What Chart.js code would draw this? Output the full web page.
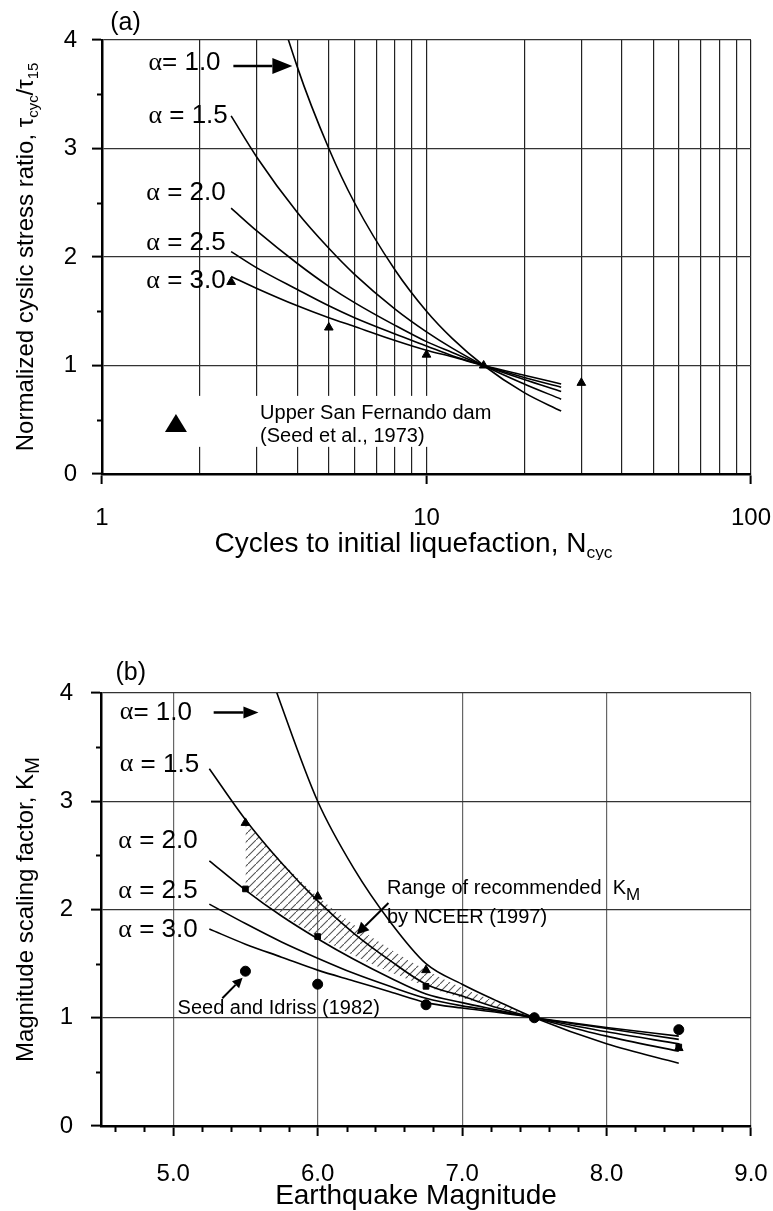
<!DOCTYPE html>
<html>
<head>
<meta charset="utf-8">
<script src="https://cdn.jsdelivr.net/npm/chart.js@4.4.1/dist/chart.umd.min.js"></script>
<style>
  html, body { margin: 0; padding: 0; background: #fff; overflow: hidden; }
  #wrap { position: relative; width: 773px; height: 1211px; }
  .box { position: absolute; left: 0; width: 773px; }
  #boxA { top: 0; height: 560px; }
  #boxB { top: 600px; height: 611px; }
</style>
</head>
<body>
<div id="wrap">
  <div class="box" id="boxA"><canvas id="chartA"></canvas></div>
  <div class="box" id="boxB"><canvas id="chartB"></canvas></div>
</div>
<script>
// ---------- panel (a): cycles to liquefaction vs normalized ratio ----------
const cyclesN = [2.5, 3, 4, 5, 6, 8, 10, 12, 15, 20, 26];
const ratioA10 = [6.00, 5.00, 3.75, 3.00, 2.50, 1.88, 1.50, 1.25, 1.00, 0.75, 0.58];
const ratioA15 = [3.30, 2.92, 2.41, 2.08, 1.84, 1.52, 1.31, 1.16, 1.00, 0.83, 0.69];
const ratioA20 = [2.45, 2.24, 1.94, 1.73, 1.58, 1.37, 1.22, 1.12, 1.00, 0.87, 0.76];
const ratioA25 = [2.05, 1.90, 1.70, 1.55, 1.44, 1.29, 1.18, 1.09, 1.00, 0.89, 0.80];
const ratioA30 = [1.82, 1.71, 1.55, 1.44, 1.36, 1.23, 1.14, 1.08, 1.00, 0.91, 0.83];

// Upper San Fernando dam (Seed et al., 1973)
const sfdN = [2.5, 5, 10, 15, 30];
const sfdRatio = [1.77, 1.35, 1.10, 1.00, 0.84];

const gridN = [1, 2, 3, 4, 5, 6, 7, 8, 9, 10, 20, 30, 40, 50, 60, 70, 80, 90, 100];
const labelN = [1, 10, 100];
const ratioTicks = [0, 1, 2, 3, 4];
const ratioMinor = [0.5, 1.5, 2.5, 3.5];

// ---------- panel (b): magnitude vs scaling factor ----------
const mags = [5.25, 5.5, 5.75, 6.0, 6.25, 6.5, 6.75, 7.0, 7.25, 7.5, 8.0, 8.5];
const kmB10 = [6.00, 4.85, 3.88, 3.00, 2.38, 1.89, 1.50, 1.31, 1.15, 1.00, 0.76, 0.58];
const kmB15 = [3.30, 2.83, 2.43, 2.08, 1.78, 1.53, 1.31, 1.20, 1.09, 1.00, 0.83, 0.69];
const kmB20 = [2.45, 2.18, 1.94, 1.73, 1.54, 1.37, 1.22, 1.14, 1.07, 1.00, 0.87, 0.76];
const kmB25 = [2.05, 1.87, 1.70, 1.55, 1.41, 1.29, 1.18, 1.11, 1.06, 1.00, 0.90, 0.80];
const kmB30 = [1.82, 1.68, 1.56, 1.44, 1.34, 1.24, 1.14, 1.09, 1.05, 1.00, 0.91, 0.83];

const pointMags = [5.5, 6.0, 6.75, 7.5, 8.5];
const nceerUpper = [2.80, 2.12, 1.44, 1.00, 0.72];
const nceerLower = [2.19, 1.75, 1.29, 1.00, 0.73];
const seedIdriss = [1.43, 1.31, 1.12, 1.00, 0.89];

const rangeMags = [5.5, 6.0, 6.75, 7.5];
const rangeUpper = [2.80, 2.12, 1.44, 1.00];
const rangeLower = [2.19, 1.75, 1.29, 1.00];

const magTicks = [5, 6, 7, 8, 9];
const magMinor = [4.6, 4.8, 5.2, 5.4, 5.6, 5.8, 6.2, 6.4, 6.6, 6.8, 7.2, 7.4, 7.6, 7.8, 8.2, 8.4, 8.6, 8.8];
const kmTicks = [0, 1, 2, 3, 4];
const kmMinor = [0.5, 1.5, 2.5, 3.5];

const SANS = "'Liberation Sans', Arial, sans-serif";
const SERIF = "'Liberation Serif', 'Times New Roman', serif";

Chart.defaults.font.family = SANS;
Chart.defaults.color = '#000';
Chart.defaults.animation = false;

function pts(xs, ys) {
    return xs.map((x, i) => ({ x: x, y: ys[i] }));
}

function curve(xs, ys) {
    return {
        data: pts(xs, ys),
        borderColor: '#000',
        borderWidth: 1.6,
        pointRadius: 0,
        fill: false,
        cubicInterpolationMode: 'monotone'
    };
}

function markers(xs, ys, style, r) {
    return {
        data: pts(xs, ys),
        showLine: false,
        pointStyle: style,
        pointRadius: r,
        backgroundColor: '#000',
        borderColor: '#000',
        borderWidth: 1
    };
}

// text with optional subscripts / serif alpha
function drawRich(ctx, parts, x, y, size, align, baseline) {
    ctx.save();
    ctx.textBaseline = baseline || 'middle';
    ctx.textAlign = 'left';
    ctx.fillStyle = '#000';
    const items = parts.map(p => {
        const fs = p.sub ? size * (p.scale || 0.62) : size;
        ctx.font = fs + 'px ' + (p.serif ? SERIF : SANS);
        return { t: p.t, f: ctx.font, w: ctx.measureText(p.t).width, dy: p.sub ? size * (p.drop || 0.22) : 0 };
    });
    const total = items.reduce((s, it) => s + it.w, 0);
    let cx = align === 'center' ? x - total / 2 : (align === 'right' ? x - total : x);
    items.forEach(it => {
        ctx.font = it.f;
        ctx.fillText(it.t, cx, y + it.dy);
        cx += it.w;
    });
    ctx.restore();
}

function arrow(ctx, x1, y1, x2, y2, head, half, lw) {
    const a = Math.atan2(y2 - y1, x2 - x1);
    const bx = x2 - head * Math.cos(a), by = y2 - head * Math.sin(a);
    ctx.save();
    ctx.strokeStyle = '#000';
    ctx.fillStyle = '#000';
    ctx.lineWidth = lw;
    ctx.beginPath();
    ctx.moveTo(x1, y1);
    ctx.lineTo(bx, by);
    ctx.stroke();
    ctx.beginPath();
    ctx.moveTo(x2, y2);
    ctx.lineTo(bx + half * Math.sin(a), by - half * Math.cos(a));
    ctx.lineTo(bx - half * Math.sin(a), by + half * Math.cos(a));
    ctx.closePath();
    ctx.fill();
    ctx.restore();
}

function minorTicks(chart, yMinor, xMinor) {
    const ctx = chart.ctx;
    const { left, bottom } = chart.chartArea;
    const xs = chart.scales.x, ys = chart.scales.y;
    ctx.save();
    ctx.strokeStyle = '#000';
    ctx.lineWidth = 2;
    ctx.beginPath();
    yMinor.forEach(v => {
        const p = Math.round(ys.getPixelForValue(v)) + 0.5;
        ctx.moveTo(left - 5, p);
        ctx.lineTo(left, p);
    });
    (xMinor || []).forEach(v => {
        const p = Math.round(xs.getPixelForValue(v)) + 0.5;
        ctx.moveTo(p, bottom);
        ctx.lineTo(p, bottom + 6);
    });
    ctx.stroke();
    ctx.restore();
}

function alphaLabel(txt) {
    return [{ t: 'α', serif: true }, { t: txt }];
}

// keep label overhang from shrinking the plot area
function fitX(h) {
    return s => { s.height = h; s.paddingLeft = 0; s.paddingRight = 0; };
}

// ---------- chart (a) ----------
const annoA = {
    id: 'annoA',
    beforeDatasetsDraw(chart) {
        // white box behind the legend entry
        const ctx = chart.ctx, xs = chart.scales.x, ys = chart.scales.y;
        const x1 = xs.getPixelForValue(1.87), x2 = xs.getPixelForValue(10.4);
        const y1 = ys.getPixelForValue(0.72), y2 = ys.getPixelForValue(0.25);
        ctx.save();
        ctx.fillStyle = '#fff';
        ctx.fillRect(x1, y1, x2 - x1, y2 - y1);
        ctx.restore();
    },
    afterDraw(chart) {
        const ctx = chart.ctx, xs = chart.scales.x, ys = chart.scales.y;
        const X = v => xs.getPixelForValue(v), Y = v => ys.getPixelForValue(v);
        const ca = chart.chartArea;
        minorTicks(chart, ratioMinor);

        drawRich(ctx, [{ t: '(a)' }], X(1.06), Y(4.16), 25, 'left');
        drawRich(ctx, alphaLabel('= 1.0'), X(1.39), Y(3.79), 26, 'left');
        arrow(ctx, X(2.54), Y(3.76), X(3.86), Y(3.76), 20, 8, 2.5);
        drawRich(ctx, alphaLabel(' = 1.5'), X(1.39), Y(3.30), 26, 'left');
        drawRich(ctx, alphaLabel(' = 2.0'), X(1.37), Y(2.59), 26, 'left');
        drawRich(ctx, alphaLabel(' = 2.5'), X(1.37), Y(2.13), 26, 'left');
        drawRich(ctx, alphaLabel(' = 3.0'), X(1.37), Y(1.78), 26, 'left');

        // legend entry
        const tx = X(1.69), ty = Y(0.46);
        ctx.save();
        ctx.fillStyle = '#000';
        ctx.beginPath();
        ctx.moveTo(tx, ty - 10);
        ctx.lineTo(tx + 11, ty + 8);
        ctx.lineTo(tx - 11, ty + 8);
        ctx.closePath();
        ctx.fill();
        ctx.restore();
        drawRich(ctx, [{ t: 'Upper San Fernando dam' }], X(3.07), Y(0.56), 20, 'left');
        drawRich(ctx, [{ t: '(Seed et al., 1973)' }], X(3.07), Y(0.35), 20, 'left');

        // axis titles
        const cx = (ca.left + ca.right) / 2 - 13;
        drawRich(ctx, [{ t: 'Cycles to initial liquefaction, N' }, { t: 'cyc', sub: true, drop: 0.2 }],
            cx, ca.bottom + 78, 28, 'center', 'alphabetic');
        ctx.save();
        ctx.translate(ca.left - 69, (ca.top + ca.bottom) / 2);
        ctx.rotate(-Math.PI / 2);
        drawRich(ctx, [{ t: 'Normalized cyslic stress ratio, τ' }, { t: 'cyc', sub: true },
            { t: '/τ' }, { t: '15', sub: true }], 0, 0, 24, 'center', 'alphabetic');
        ctx.restore();
    }
};

new Chart(document.getElementById('chartA'), {
    type: 'line',
    data: {
        datasets: [
            markers(sfdN, sfdRatio, 'triangle', 5),
            curve(cyclesN, ratioA10),
            curve(cyclesN, ratioA15),
            curve(cyclesN, ratioA20),
            curve(cyclesN, ratioA25),
            curve(cyclesN, ratioA30)
        ]
    },
    options: {
        responsive: true,
        maintainAspectRatio: false,
        layout: { padding: { top: 40, right: 22, left: 0, bottom: 0 } },
        plugins: { legend: { display: false }, tooltip: { enabled: false } },
        scales: {
            x: {
                type: 'logarithmic',
                min: 1,
                max: 100,
                afterBuildTicks: s => { s.ticks = gridN.map(v => ({ value: v })); },
                afterFit: fitX(86),
                ticks: {
                    autoSkip: false,
                    maxRotation: 0,
                    padding: 20,
                    font: { size: 24 },
                    callback: v => labelN.includes(v) ? String(v) : ''
                },
                grid: {
                    color: '#222',
                    lineWidth: 1.2,
                    tickLength: 10,
                    tickWidth: 2,
                    tickColor: c => (c.tick && labelN.includes(c.tick.value)) ? '#000' : 'rgba(0,0,0,0)'
                },
                border: { color: '#000', width: 2.5 }
            },
            y: {
                min: 0,
                max: 4,
                afterBuildTicks: s => { s.ticks = ratioTicks.map(v => ({ value: v })); },
                afterFit: s => { s.width = 102; },
                ticks: { padding: 15, font: { size: 24 } },
                grid: { color: '#333', lineWidth: 1.2, tickLength: 10, tickWidth: 2, tickColor: '#000' },
                border: { color: '#000', width: 2.5 }
            }
        }
    },
    plugins: [annoA]
});

// ---------- chart (b) ----------
function hatchPattern() {
    const c = document.createElement('canvas');
    c.width = 8;
    c.height = 8;
    const g = c.getContext('2d');
    g.strokeStyle = '#555';
    g.lineWidth = 1.1;
    g.beginPath();
    g.moveTo(-1, 9);
    g.lineTo(9, -1);
    g.stroke();
    return g.createPattern(c, 'repeat');
}

const annoB = {
    id: 'annoB',
    afterDraw(chart) {
        const ctx = chart.ctx, xs = chart.scales.x, ys = chart.scales.y;
        const X = v => xs.getPixelForValue(v), Y = v => ys.getPixelForValue(v);
        const ca = chart.chartArea;
        minorTicks(chart, kmMinor, magMinor);

        drawRich(ctx, [{ t: '(b)' }], X(4.60), Y(4.18), 25, 'left');
        drawRich(ctx, alphaLabel('= 1.0'), X(4.63), Y(3.82), 26, 'left');
        arrow(ctx, X(5.28), Y(3.82), X(5.59), Y(3.82), 15, 6, 2.5);
        drawRich(ctx, alphaLabel(' = 1.5'), X(4.63), Y(3.34), 26, 'left');
        drawRich(ctx, alphaLabel(' = 2.0'), X(4.62), Y(2.63), 26, 'left');
        drawRich(ctx, alphaLabel(' = 2.5'), X(4.62), Y(2.17), 26, 'left');
        drawRich(ctx, alphaLabel(' = 3.0'), X(4.62), Y(1.81), 26, 'left');

        drawRich(ctx, [{ t: 'Range of recommended  K' }, { t: 'M', sub: true, scale: 0.85, drop: 0.3 }],
            X(6.48), Y(2.19), 20, 'left');
        drawRich(ctx, [{ t: 'by NCEER (1997)' }], X(6.48), Y(1.93), 20, 'left');
        arrow(ctx, X(6.49), Y(2.06), X(6.27), Y(1.77), 12, 6, 2);

        drawRich(ctx, [{ t: 'Seed and Idriss (1982)' }], X(5.03), Y(1.09), 20, 'left');
        arrow(ctx, X(5.34), Y(1.18), X(5.48), Y(1.37), 10, 5, 2);

        const cx = (ca.left + ca.right) / 2 - 10;
        drawRich(ctx, [{ t: 'Earthquake Magnitude' }], cx, ca.bottom + 78, 28, 'center', 'alphabetic');
        ctx.save();
        ctx.translate(ca.left - 68, (ca.top + ca.bottom) / 2);
        ctx.rotate(-Math.PI / 2);
        drawRich(ctx, [{ t: 'Magnitude scaling factor, K' }, { t: 'M', sub: true, scale: 0.85, drop: 0.25 }],
            0, 0, 24, 'center', 'alphabetic');
        ctx.restore();
    }
};

const hatch = hatchPattern();

new Chart(document.getElementById('chartB'), {
    type: 'line',
    data: {
        datasets: [
            {
                data: pts(rangeMags, rangeUpper),
                borderWidth: 0,
                borderColor: 'rgba(0,0,0,0)',
                pointRadius: 0,
                backgroundColor: hatch,
                fill: '+1',
                cubicInterpolationMode: 'monotone'
            },
            {
                data: pts(rangeMags, rangeLower),
                borderWidth: 0,
                borderColor: 'rgba(0,0,0,0)',
                pointRadius: 0,
                fill: false,
                cubicInterpolationMode: 'monotone'
            },
            markers(pointMags, nceerUpper, 'triangle', 5),
            markers(pointMags, nceerLower, 'rect', 4),
            markers(pointMags, seedIdriss, 'circle', 5),
            curve(mags, kmB10),
            curve(mags, kmB15),
            curve(mags, kmB20),
            curve(mags, kmB25),
            curve(mags, kmB30)
        ]
    },
    options: {
        responsive: true,
        maintainAspectRatio: false,
        layout: { padding: { top: 93, right: 22, left: 0, bottom: 0 } },
        plugins: {
            legend: { display: false },
            tooltip: { enabled: false },
            filler: { drawTime: 'beforeDatasetsDraw' }
        },
        scales: {
            x: {
                type: 'linear',
                min: 4.5,
                max: 9.0,
                afterBuildTicks: s => { s.ticks = magTicks.map(v => ({ value: v })); },
                afterFit: fitX(85),
                ticks: {
                    autoSkip: false,
                    maxRotation: 0,
                    padding: 24,
                    font: { size: 24 },
                    callback: v => Number(v).toFixed(1)
                },
                grid: { color: '#666', lineWidth: 1.2, tickLength: 10, tickWidth: 2, tickColor: '#000' },
                border: { color: '#000', width: 2.5 }
            },
            y: {
                min: 0,
                max: 4,
                afterBuildTicks: s => { s.ticks = kmTicks.map(v => ({ value: v })); },
                afterFit: s => { s.width = 101; },
                ticks: { padding: 18, font: { size: 24 } },
                grid: { color: '#333', lineWidth: 1.2, tickLength: 10, tickWidth: 2, tickColor: '#000' },
                border: { color: '#000', width: 2.5 }
            }
        }
    },
    plugins: [annoB]
});
</script>
</body>
</html>
